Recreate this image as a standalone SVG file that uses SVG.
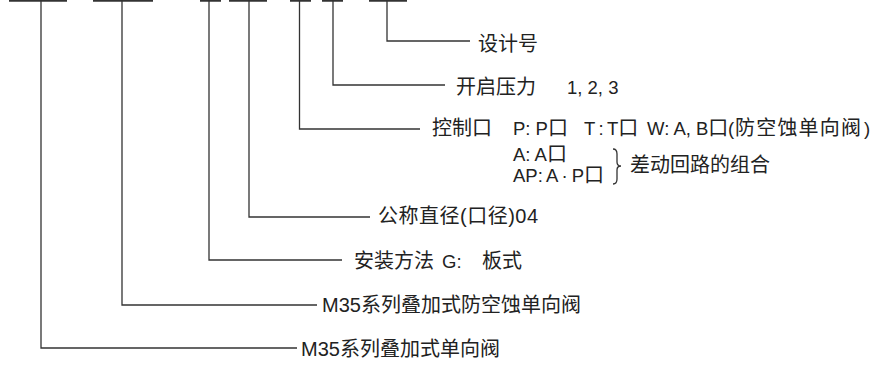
<svg xmlns="http://www.w3.org/2000/svg" width="883" height="365" viewBox="0 0 883 365">
<style>
.t{font-family:"Liberation Sans","Noto Sans CJK SC",sans-serif;font-size:20px;fill:#222}
.l{font-size:18.5px}
.c{fill:none;stroke:#333;stroke-width:1.3}
.bar{fill:none;stroke:#333;stroke-width:2.5}
</style>
<rect width="883" height="365" fill="#fff"/>
<g id="bars">
<line class="bar" x1="9" y1="0.5" x2="67" y2="0.5"/>
<line class="bar" x1="93" y1="0.5" x2="153" y2="0.5"/>
<line class="bar" x1="200" y1="0.5" x2="221" y2="0.5"/>
<line class="bar" x1="229" y1="0.5" x2="267" y2="0.5"/>
<line class="bar" x1="290" y1="0.5" x2="311" y2="0.5"/>
<line class="bar" x1="322" y1="0.5" x2="343" y2="0.5"/>
<line class="bar" x1="369" y1="0.5" x2="407" y2="0.5"/>
</g>
<g id="connectors">
<path class="c" d="M387,0 V41 H470"/>
<path class="c" d="M333,0 V85 H445"/>
<path class="c" d="M299.5,0 V129 H420"/>
<path class="c" d="M249,0 V217 H370"/>
<path class="c" d="M209,0 V260 H342"/>
<path class="c" d="M122,0 V305 H317"/>
<path class="c" d="M41,0 V348 H297"/>
<path class="c" stroke-width="1" d="M613,149 Q617,149 617,154 V162 Q617,166 621,166 Q617,166 617,170 V179 Q617,184 613,184"/>
</g>
<g id="n-design"><text class="t" x="478" y="51">设计号</text></g>
<g id="n-pressure"><text class="t" x="456" y="94">开启压力</text><text class="t l" x="567" y="94">1, 2, 3</text></g>
<g id="n-control">
<text class="t" x="432" y="135">控制口</text>
<text class="t" y="135"><tspan class="l" x="513">P: P</tspan>口</text>
<text class="t" y="135"><tspan class="l" x="584" word-spacing="-1.5">T : T</tspan>口</text>
<text class="t" y="135"><tspan class="l" x="647">W: A, B</tspan>口<tspan class="l" x="728">(</tspan><tspan x="735" letter-spacing="1.2">防空蚀单向阀</tspan><tspan class="l" x="864">)</tspan></text>
<text class="t" y="161"><tspan class="l" x="513">A: A</tspan>口</text>
<text class="t" y="182"><tspan class="l" x="513" word-spacing="-1">AP: A · P</tspan>口</text>
<text class="t" x="630" y="172">差动回路的组合</text>
</g>
<g id="n-diameter"><text class="t" x="378" y="223" letter-spacing="0.5">公称直径(口径)04</text></g>
<g id="n-mount"><text class="t" x="354" y="268">安装方法</text><text class="t l" x="442" y="268">G:</text><text class="t" x="482" y="268">板式</text></g>
<g id="n-m35w"><text class="t" x="322" y="312">M35系列叠加式防空蚀单向阀</text></g>
<g id="n-m35"><text class="t" x="301" y="356">M35系列叠加式单向阀</text></g>
</svg>
